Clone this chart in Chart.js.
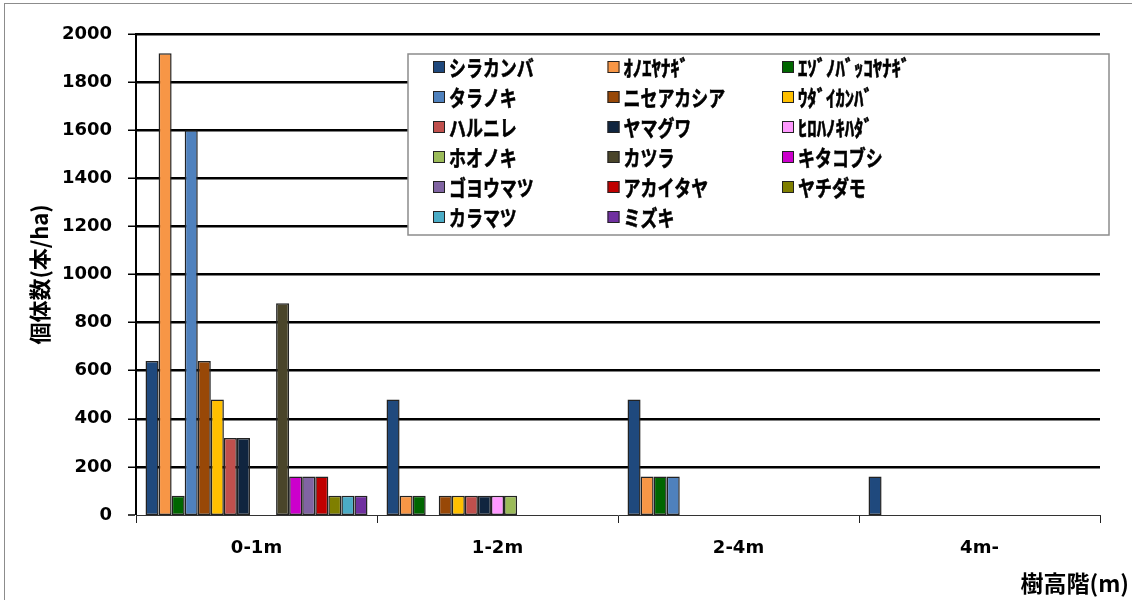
<!DOCTYPE html>
<html>
<head>
<meta charset="utf-8">
<script src="https://cdn.jsdelivr.net/npm/chart.js@4/dist/chart.umd.min.js"></script>
<style>
  html, body { margin: 0; padding: 0; background: #fff; }
  #wrap { width: 1132px; height: 600px; }
</style>
</head>
<body>
<div id="wrap"><canvas id="heightChart" width="1132" height="600"></canvas></div>
<script>
// categories (tree height class) and tick values
const categories = ['0-1m', '1-2m', '2-4m', '4m-'];
const yTicks = [0, 200, 400, 600, 800, 1000, 1200, 1400, 1600, 1800, 2000];

// species names, in legend order
const species = [
    'シラカンバ', 'ｵﾉｴﾔﾅｷﾞ', 'ｴｿﾞﾉﾊﾞｯｺﾔﾅｷﾞ',
    'タラノキ', 'ニセアカシア', 'ｳﾀﾞｲｶﾝﾊﾞ',
    'ハルニレ', 'ヤマグワ', 'ﾋﾛﾊﾉｷﾊﾀﾞ',
    'ホオノキ', 'カツラ', 'キタコブシ',
    'ゴヨウマツ', 'アカイタヤ', 'ヤチダモ',
    'カラマツ', 'ミズキ'
];

// individuals per ha for each height class (null = no bar)
const shirakanba   = [640, 480, 480, 160];
const onoeyanagi   = [1920, 80, 160, null];
const ezonobakko   = [80, 80, 160, null];
const taranoki     = [1600, null, 160, null];
const niseakashia  = [640, 80, null, null];
const udaikanba    = [480, 80, null, null];
const harunire     = [320, 80, null, null];
const yamaguwa     = [320, 80, null, null];
const hirohakihada = [null, 80, null, null];
const hoonoki      = [null, 80, null, null];
const katsura      = [880, null, null, null];
const kitakobushi  = [160, null, null, null];
const goyoumatsu   = [160, null, null, null];
const akaitaya     = [160, null, null, null];
const yachidamo    = [80, null, null, null];
const karamatsu    = [80, null, null, null];
const mizuki       = [80, null, null, null];

const seriesValues = [
    shirakanba, onoeyanagi, ezonobakko, taranoki, niseakashia, udaikanba,
    harunire, yamaguwa, hirohakihada, hoonoki, katsura, kitakobushi,
    goyoumatsu, akaitaya, yachidamo, karamatsu, mizuki
];

const colors = [
    '#1F497D', '#F79646', '#006600', '#4F81BD', '#984807', '#FFC000',
    '#C0504D', '#10253F', '#FF99FF', '#9BBB59', '#4A452A', '#CC00CC',
    '#8064A2', '#C00000', '#7F7F00', '#4BACC6', '#7030A0'
];

const tickFont = { family: '"DejaVu Sans", sans-serif', size: 18, weight: 'bold' };
const cjkFont = '"Noto Sans CJK JP", "DejaVu Sans", sans-serif';

// legend box, axis titles and outer frame
const decorations = {
    id: 'decorations',
    afterDraw(chart) {
        const ctx = chart.ctx;
        ctx.save();

        // outer frame
        ctx.strokeStyle = '#8c8c8c';
        ctx.lineWidth = 1;
        ctx.strokeRect(4.5, 3.5, 1200, 700);

        // legend
        const lx = 408, ly = 54, lw = 701, lh = 181;
        ctx.fillStyle = '#fff';
        ctx.fillRect(lx, ly, lw, lh);
        ctx.strokeStyle = '#8c8c8c';
        ctx.lineWidth = 1.5;
        ctx.strokeRect(lx, ly, lw, lh);

        chart.data.datasets.forEach((ds, i) => {
            const col = i % 3, row = Math.floor(i / 3);
            const bx = 433 + col * 174.5;
            const cy = 67 + row * 30;
            ctx.fillStyle = ds.backgroundColor;
            ctx.fillRect(bx, cy - 6, 12, 12);
            ctx.strokeStyle = '#222';
            ctx.lineWidth = 1;
            ctx.strokeRect(bx + 0.5, cy - 5.5, 11, 11);

            // full-width katakana are drawn narrower, like the original proportional font
            const fullWidth = /[\u30A0-\u30FF]/.test(ds.label);
            ctx.save();
            ctx.translate(bx + 16, cy + 1);
            ctx.scale(fullWidth ? 0.77 : 0.85, 1);
            ctx.fillStyle = '#000';
            ctx.strokeStyle = '#000';
            ctx.lineWidth = 0.6;
            ctx.font = 'bold 22px ' + cjkFont;
            ctx.textBaseline = 'middle';
            ctx.textAlign = 'left';
            ctx.fillText(ds.label, 0, 0);
            ctx.strokeText(ds.label, 0, 0);
            ctx.restore();
        });

        // y axis title
        const area = chart.chartArea;
        ctx.save();
        ctx.translate(40, (area.top + area.bottom) / 2);
        ctx.rotate(-Math.PI / 2);
        ctx.fillStyle = '#000';
        ctx.font = 'bold 22px ' + cjkFont;
        ctx.textAlign = 'center';
        ctx.textBaseline = 'middle';
        ctx.fillText('個体数(本/ha)', 0, 0);
        ctx.restore();

        // x axis title
        ctx.fillStyle = '#000';
        ctx.font = 'bold 23px ' + cjkFont;
        ctx.textAlign = 'right';
        ctx.textBaseline = 'middle';
        ctx.fillText('樹高階(m)', 1129, 583);

        ctx.restore();
    }
};

const chartCtx = document.getElementById('heightChart').getContext('2d');
new Chart(chartCtx, {
    type: 'bar',
    data: {
        labels: categories,
        datasets: species.map((name, i) => ({
            label: name,
            data: seriesValues[i],
            backgroundColor: colors[i],
            borderColor: '#222',
            borderWidth: 1.5,
            borderSkipped: false,
            categoryPercentage: 0.921,
            barPercentage: 1.0
        }))
    },
    options: {
        responsive: false,
        animation: false,
        devicePixelRatio: 1,
        layout: {
            padding: { left: 0, right: 32, top: 34, bottom: 0 }
        },
        plugins: {
            legend: { display: false },
            tooltip: { enabled: false }
        },
        scales: {
            x: {
                offset: true,
                afterFit: (scale) => { scale.height = 85; },
                grid: {
                    offset: true,
                    drawOnChartArea: false,
                    drawTicks: true,
                    tickLength: 8,
                    tickColor: '#222',
                    tickWidth: 1
                },
                border: { display: true, color: '#333', width: 1 },
                ticks: {
                    color: '#000',
                    font: tickFont,
                    padding: 15,
                    maxRotation: 0
                }
            },
            y: {
                min: 0,
                max: 2000,
                afterFit: (scale) => { scale.width = 136; },
                afterBuildTicks: (scale) => {
                    scale.ticks = yTicks.map(v => ({ value: v }));
                },
                grid: {
                    color: '#000',
                    lineWidth: (c) => (c.tick && c.tick.value === 0 ? 0 : 2.5),
                    drawTicks: true,
                    tickLength: 8,
                    tickColor: '#000',
                    tickWidth: 1.5
                },
                border: { display: true, color: '#000', width: 2 },
                ticks: {
                    color: '#000',
                    font: tickFont,
                    padding: 16,
                    callback: (v) => String(v)
                }
            }
        }
    },
    plugins: [decorations]
});
</script>
</body>
</html>
